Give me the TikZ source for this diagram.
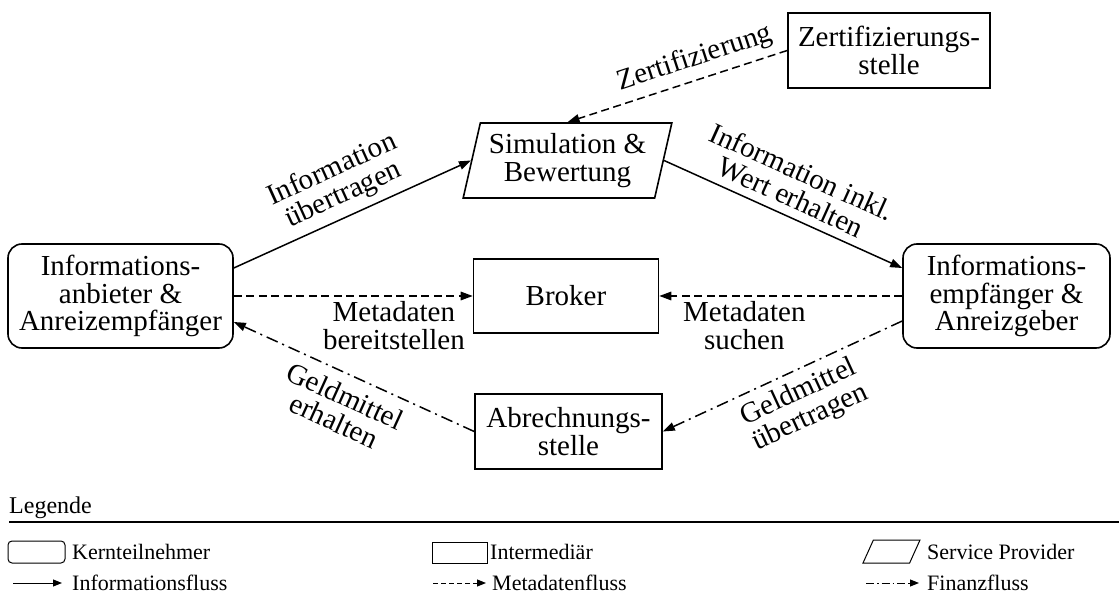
\documentclass[tikz,border=0pt]{standalone}
\usepackage{fontspec}
\setmainfont{Liberation Serif}
\usetikzlibrary{shapes.geometric,arrows.meta,calc}
\begin{document}
\begin{tikzpicture}[x=1pt,y=-1pt,
  every node/.style={font=\fontsize{29}{27.5}\selectfont},
  box/.style={draw,line width=1.6pt,align=center,inner sep=0pt},
  corebox/.style={box,rounded corners=14pt},
  interbox/.style={box,rectangle},
  spbox/.style={box,trapezium,trapezium left angle=74,trapezium right angle=106,trapezium stretches=true},
  flow/.style={line width=1.5pt,-{Triangle[length=12pt,width=8.5pt]}},
  infoflow/.style={flow},
  metaflow/.style={flow,dash pattern=on 8pt off 4.5pt},
  finflow/.style={flow,dash pattern=on 12pt off 5pt on 2pt off 5pt},
  lbl/.style={sloped,align=center,inner sep=2pt},
  mlbl/.style={align=center,inner sep=2pt},
  legtext/.style={font=\fontsize{22}{24}\selectfont,anchor=west,inner sep=0pt},
  legshape/.style={line width=1pt,inner sep=1pt},
  legflow/.style={line width=1pt,-{Triangle[length=9pt,width=7pt]}},
]
\useasboundingbox (0,0) rectangle (1119,601);

% participants and intermediaries
\node[corebox,minimum width=225pt,minimum height=104pt] (anb) at (120.5,296)
  {Informations-\\anbieter \&\\Anreizempfänger};
\node[corebox,minimum width=207pt,minimum height=104pt] (emp) at (1006.5,296)
  {Informations-\\empfänger \&\\Anreizgeber};
\node[interbox,minimum width=185pt,minimum height=74pt] (broker) at (566,296) {Broker};
\node[interbox,minimum width=187pt,minimum height=75pt] (abr) at (568.5,431.5)
  {Abrechnungs-\\stelle};
\node[interbox,minimum width=202pt,minimum height=75pt] (zert) at (889,50.5)
  {Zertifizierungs-\\stelle};
\node[spbox,minimum width=209pt,minimum height=75pt] (sim) at (567.5,160.5)
  {Simulation \&\\Bewertung};

% flows
\draw[infoflow] ([yshift=28pt]anb.east) -- node[lbl,above=5pt]{Information\\übertragen} (sim.west);
\draw[infoflow] (sim.east) -- node[lbl,above=6pt]{Information inkl.\\Wert erhalten} ([yshift=28pt]emp.west);
\draw[metaflow] (anb.east) -- node[mlbl,below=3pt,pos=0.67]{Metadaten\\bereitstellen} (broker.west);
\draw[metaflow] (emp.west) -- node[mlbl,below=3pt,pos=0.65]{Metadaten\\suchen} (broker.east);
\draw[metaflow] (zert.west) -- node[lbl,above=5pt,pos=0.39]{Zertifizierung} (sim.north);
\draw[finflow] ([yshift=-25pt]emp.west) -- node[lbl,below=6pt,pos=0.47]{Geldmittel\\übertragen} (abr.east);
\draw[finflow] (abr.west) -- node[lbl,below=8pt]{Geldmittel\\erhalten} ([yshift=-26pt]anb.east);

% legend
\node[legtext,font=\fontsize{24}{26}\selectfont] (legtitle) at (9,508) {Legende};
\coordinate (rulea) at (9,522);
\coordinate (ruleb) at (1119,522);
\draw[line width=2pt] (rulea) -- (ruleb);

\node[box,legshape,rounded corners=4pt,minimum width=57pt,minimum height=22pt] (lgcore) at (36.5,552) {};
\node[legtext] (lgcoretxt) at (72,552) {Kernteilnehmer};
\node[box,legshape,minimum width=55pt,minimum height=21pt] (lginter) at (459.5,552.5) {};
\node[legtext] (lgintertxt) at (490,552) {Intermediär};
\node[spbox,legshape,minimum width=57pt,minimum height=23pt] (lgsp) at (891.5,551.5) {};
\node[legtext] (lgsptxt) at (927,552) {Service Provider};

\coordinate (lia) at (13,583);
\coordinate (lib) at (62,583);
\draw[legflow] (lia) -- (lib);
\node[legtext] (litxt) at (72,583) {Informationsfluss};
\coordinate (lma) at (433,583);
\coordinate (lmb) at (486,583);
\draw[legflow,dash pattern=on 5pt off 3pt] (lma) -- (lmb);
\node[legtext] (lmtxt) at (492,583) {Metadatenfluss};
\coordinate (lfa) at (866,583);
\coordinate (lfb) at (919,583);
\draw[legflow,dash pattern=on 8pt off 3pt on 1.5pt off 3pt] (lfa) -- (lfb);
\node[legtext] (lftxt) at (927,583) {Finanzfluss};
\end{tikzpicture}
\end{document}
